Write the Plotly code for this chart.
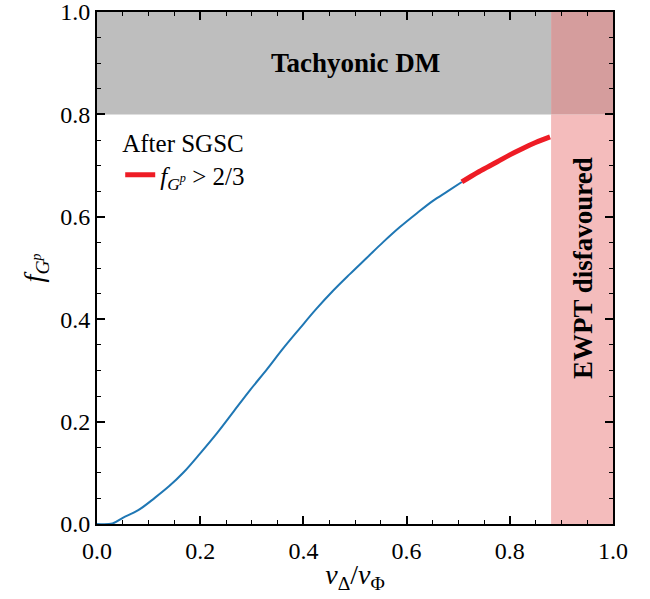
import plotly.graph_objects as go

# Data
x_blue = [0.0, 0.03, 0.05, 0.08, 0.112, 0.14, 0.167, 0.2, 0.233, 0.265, 0.297,
          0.33, 0.36, 0.393, 0.425, 0.457, 0.49, 0.523, 0.555, 0.587, 0.62,
          0.651, 0.68, 0.707]
y_blue = [0.0, 0.001, 0.012, 0.027, 0.051, 0.074, 0.10, 0.138, 0.178, 0.22, 0.262,
          0.303, 0.342, 0.382, 0.42, 0.455, 0.488, 0.52, 0.551, 0.58, 0.607,
          0.631, 0.65, 0.668]
x_red = [0.707, 0.74, 0.775, 0.80, 0.826, 0.85, 0.878]
y_red = [0.668, 0.688, 0.707, 0.721, 0.734, 0.745, 0.756]

tachyonic_y = [0.8, 1.0]
ewpt_x = [0.88, 1.0]

FONT = "Liberation Serif"

fig = go.Figure()
fig.add_trace(go.Scatter(x=x_blue, y=y_blue, mode="lines",
                         line=dict(color="#1f77b4", width=2, shape="spline",
                                   smoothing=1.0),
                         showlegend=False))
fig.add_trace(go.Scatter(x=x_red, y=y_red, mode="lines",
                         line=dict(color="#ee1c25", width=5, shape="spline",
                                   smoothing=1.0),
                         name="<i>f</i><sub><i>G<sup>p</sup></i></sub> > 2/3"))

# shaded regions
fig.add_shape(type="rect", xref="x", yref="y", x0=0, x1=ewpt_x[0],
              y0=tachyonic_y[0], y1=tachyonic_y[1], fillcolor="#bebebe",
              line_width=0, layer="below")
fig.add_shape(type="rect", xref="x", yref="y", x0=ewpt_x[0], x1=ewpt_x[1],
              y0=0, y1=tachyonic_y[0], fillcolor="#f4bcbc",
              line_width=0, layer="below")
fig.add_shape(type="rect", xref="x", yref="y", x0=ewpt_x[0], x1=ewpt_x[1],
              y0=tachyonic_y[0], y1=tachyonic_y[1], fillcolor="#d59d9d",
              line_width=0, layer="below")

fig.add_annotation(x=0.5, y=0.9, xref="x", yref="y", text="<b>Tachyonic DM</b>",
                   showarrow=False, font=dict(family=FONT, size=27, color="black"))
fig.add_annotation(x=0.942, y=0.5, xref="x", yref="y", text="<b>EWPT disfavoured</b>",
                   showarrow=False, textangle=-90,
                   font=dict(family=FONT, size=27, color="black"))

axis_common = dict(
    showgrid=False, zeroline=False, showline=True, linecolor="black", linewidth=2,
    mirror="allticks", ticks="inside", ticklen=8, tickwidth=1.5, tickcolor="black",
    tickfont=dict(family=FONT, size=24, color="black"),
    minor=dict(ticks="inside", ticklen=4, tickwidth=1.2, tickcolor="black", dtick=0.05),
    dtick=0.2, tickformat=".1f", automargin=False, ticklabeloverflow="allow",
)

fig.update_xaxes(range=[0, 1], ticklabelstandoff=4, title=dict(
    text="<i>v</i><sub>Δ</sub>/<i>v</i><sub>Φ</sub>",
    font=dict(family=FONT, size=28, color="black"), standoff=2), **axis_common)
fig.update_yaxes(range=[0, 1], title=dict(
    text="<i>f</i><sub><i>G<sup>p</sup></i></sub>",
    font=dict(family=FONT, size=28, color="black"), standoff=8), **axis_common)

fig.update_layout(
    width=650, height=599,
    margin=dict(l=97, r=37, t=12, b=75),
    plot_bgcolor="white", paper_bgcolor="white",
    font=dict(family=FONT, color="black"),
    legend=dict(x=0.045, y=0.79, xanchor="left", yanchor="top",
                bgcolor="rgba(0,0,0,0)",
                title=dict(text="After SGSC", font=dict(family=FONT, size=25)),
                font=dict(family=FONT, size=25)),
)

fig.write_html("out.html", config={"displayModeBar": False},
               post_script="document.body.style.margin='0px';")
